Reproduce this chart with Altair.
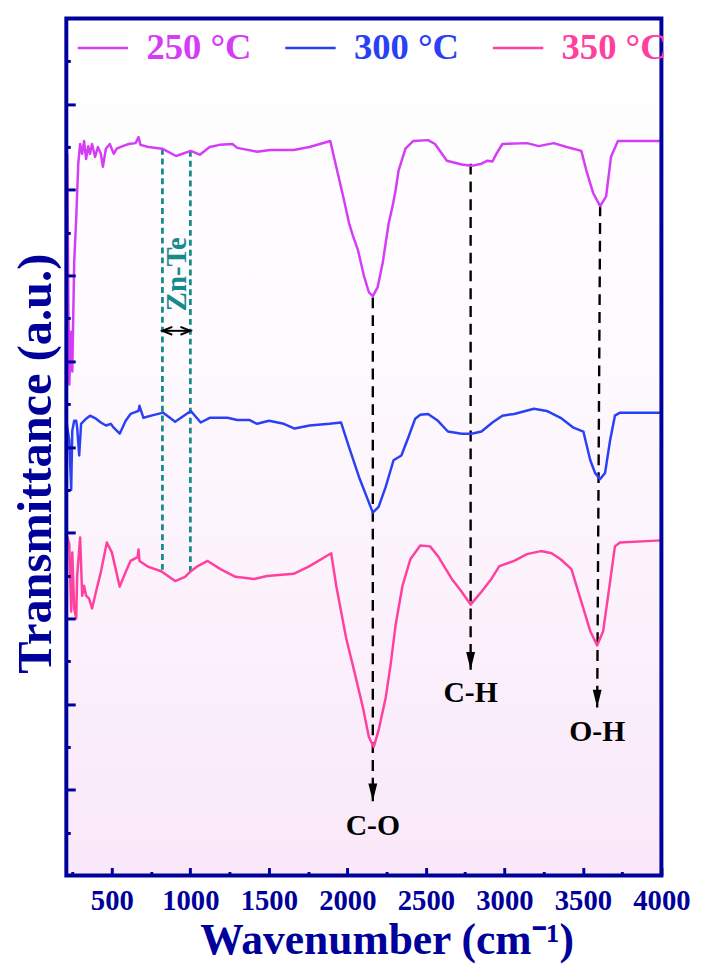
import altair as alt
import pandas as pd

FONT = "Liberation Serif"
AX = "#00009a"
TEAL = "#178a8a"

series_names = ["250 °C", "300 °C", "350 °C"]
series_colors = ["#d53cf5", "#2a40f5", "#ff409f"]

wn_250 = [216, 223, 229, 241, 248, 260, 273, 286, 298, 311, 323, 336, 349, 361, 374, 393, 411, 430, 443, 462,
          487, 512, 531, 569, 607, 651, 670, 682, 733, 821, 909, 1003, 1060, 1123, 1186, 1268, 1299, 1425, 1507, 1658,
          1759, 1891, 1929, 1973, 2011, 2036, 2067, 2105, 2137, 2162, 2193, 2225, 2244, 2263, 2288, 2307, 2326, 2370, 2420, 2514,
          2558, 2634, 2728, 2791, 2854, 2892, 2924, 2949, 2987, 3144, 3219, 3314, 3396, 3490, 3522, 3566, 3610, 3648, 3679, 3723,
          3774, 4000]
t_250 = [16.84, 13.38, 11.46, 12.69, 11.76, 14.30, 15.34, 16.61, 17.07, 16.84, 17.14, 16.72, 17.02, 16.84, 17.07, 16.77, 17.00, 16.84, 16.54, 16.96,
         17.07, 16.84, 16.96, 17.02, 17.07, 17.09, 17.23, 17.05, 17.00, 16.96, 16.79, 16.91, 16.82, 17.00, 17.05, 17.07, 16.98, 16.89, 16.93, 16.93,
         17.00, 17.14, 16.54, 15.85, 15.22, 14.92, 14.60, 14.00, 13.61, 13.52, 13.73, 14.30, 14.76, 15.22, 15.62, 15.99, 16.45, 16.96, 17.14, 17.16,
         17.07, 16.68, 16.59, 16.56, 16.61, 16.68, 16.66, 16.84, 17.07, 17.09, 17.02, 17.09, 17.00, 16.91, 16.45, 15.92, 15.62, 15.85, 16.77, 17.14,
         17.14, 17.14]

wn_300 = [210, 229, 241, 248, 260, 273, 279, 292, 304, 336, 361, 399, 430, 462, 493, 512, 550, 588, 619, 670,
          676, 701, 751, 827, 903, 1003, 1066, 1123, 1236, 1299, 1375, 1425, 1501, 1595, 1664, 1759, 1885, 1960, 2011, 2074,
          2130, 2162, 2199, 2244, 2294, 2344, 2388, 2432, 2464, 2514, 2577, 2640, 2728, 2791, 2854, 2924, 2987, 3062, 3188, 3270,
          3358, 3440, 3503, 3547, 3578, 3610, 3641, 3673, 3704, 3736, 4000]
t_300 = [10.61, 10.15, 9.00, 10.38, 10.61, 10.61, 10.45, 9.80, 10.54, 10.66, 10.73, 10.66, 10.57, 10.50, 10.54, 10.45, 10.31, 10.61, 10.77, 10.84,
         10.96, 10.68, 10.73, 10.80, 10.59, 10.84, 10.57, 10.68, 10.68, 10.63, 10.63, 10.54, 10.61, 10.54, 10.43, 10.50, 10.54, 10.57, 9.99, 9.30,
         8.77, 8.47, 8.60, 9.07, 9.69, 9.80, 10.22, 10.66, 10.75, 10.77, 10.61, 10.36, 10.31, 10.31, 10.36, 10.57, 10.73, 10.77, 10.89, 10.84,
         10.68, 10.45, 10.36, 9.69, 9.39, 9.25, 9.39, 10.15, 10.73, 10.80, 10.80]

wn_350 = [216, 229, 241, 248, 260, 273, 279, 298, 311, 323, 336, 355, 374, 399, 430, 468, 500, 550, 588, 619,
          664, 670, 676, 733, 814, 903, 966, 1003, 1047, 1110, 1192, 1287, 1406, 1488, 1658, 1759, 1897, 1929, 1992, 2043,
          2099, 2137, 2168, 2199, 2244, 2275, 2307, 2351, 2401, 2464, 2527, 2577, 2665, 2728, 2785, 2854, 2917, 2968, 3062, 3144,
          3232, 3301, 3358, 3427, 3484, 3547, 3591, 3629, 3673, 3704, 3736, 4000]
t_350 = [7.91, 7.73, 6.16, 7.54, 6.23, 6.00, 6.99, 7.89, 6.53, 6.76, 6.53, 6.46, 6.23, 6.62, 7.08, 7.77, 7.54, 6.74, 7.08, 7.34,
         7.43, 7.61, 7.34, 7.20, 7.10, 6.87, 6.97, 7.10, 7.22, 7.34, 7.15, 6.97, 6.92, 6.99, 7.04, 7.22, 7.52, 6.76, 5.54, 4.78,
         3.92, 3.23, 3.00, 3.39, 4.15, 4.91, 5.84, 6.76, 7.38, 7.70, 7.68, 7.45, 6.92, 6.62, 6.32, 6.62, 6.92, 7.22, 7.34, 7.50,
         7.57, 7.52, 7.38, 7.15, 6.46, 5.70, 5.37, 5.70, 6.85, 7.68, 7.77, 7.82]

# peak assignments
peak_labels = ["C-O", "C-H", "O-H"]
peak_x_top = [2162, 2785, 3610]
peak_x_tip = [2162, 2785, 3591]
peak_y_top = [13.49, 16.61, 15.64]
peak_y_tip = [1.73, 4.80, 3.92]
peak_label_y = [1.15, 4.26, 3.34]

# Zn-Te band
band_x = [822, 1000]
band_y_top = [16.96, 16.91]
band_y_bottom = [7.10, 7.10]
band_arrow_y = 12.71
band_label = "Zn-Te"
band_label_x = 915
band_label_y = 14.03

x_major = [500, 1000, 1500, 2000, 2500, 3000, 3500, 4000]
x_minor = [250, 750, 1250, 1750, 2250, 2750, 3250, 3750]
y_major = [2, 4, 6, 8, 10, 12, 14, 16, 18]
y_minor = [1, 3, 5, 7, 9, 11, 13, 15, 17, 19]

W, H = 602, 867

rows = []
for name, xs, ys in zip(series_names, [wn_250, wn_300, wn_350], [t_250, t_300, t_350]):
    for i, (a, b) in enumerate(zip(xs, ys)):
        rows.append({"series": name, "wn": a, "t": b, "idx": i})
df = pd.DataFrame(rows)

peaks = pd.DataFrame({"label": peak_labels, "x": peak_x_top, "x2": peak_x_tip,
                      "y": peak_y_top, "y2": peak_y_tip, "ly": peak_label_y})
band = pd.DataFrame({"x": band_x, "y": band_y_top, "y2": band_y_bottom})
band_arrow = pd.DataFrame({"x": [band_x[0]], "x2": [band_x[1]], "y": [band_arrow_y]})
band_text = pd.DataFrame({"x": [band_label_x], "y": [band_label_y], "label": [band_label]})

xs = alt.Scale(domain=[210, 4000], nice=False, zero=False)
ys = alt.Scale(domain=[0, 20], nice=False, zero=False)

xA = alt.Axis(values=x_major, format="d", labelOverlap=False, labelFlush=False, ticks=False, domain=False,
              grid=False, orient="bottom", zindex=2,
              labelFont=FONT, labelFontWeight="bold", labelFontSize=29, labelColor=AX, labelPadding=11,
              title="Wavenumber (cm⁻¹)", titleFont=FONT, titleFontWeight="bold", titleFontSize=44,
              titleColor=AX, titleX=324, titleY=66, titleAlign="center", titleBaseline="middle")
yA = alt.Axis(ticks=False, labels=False, domain=False, grid=False, orient="left", zindex=2,
              title="Transmittance (a.u.)", titleFont=FONT, titleFontWeight="bold", titleFontSize=49,
              titleColor=AX, titleX=-31, titleY=450, titleAngle=270, titleAlign="center", titleBaseline="middle")
xB = alt.Axis(values=x_major, offset=-8, tickSize=8, tickWidth=3, tickColor=AX, labels=False,
              domain=False, grid=False, title=None, orient="bottom", zindex=2)
yB = alt.Axis(values=y_major, offset=-9, tickSize=9, tickWidth=3, tickColor=AX, labels=False,
              domain=False, grid=False, title=None, orient="left", zindex=2)
xC = alt.Axis(values=x_minor, offset=-4, tickSize=4, tickWidth=3, tickColor=AX, labels=False,
              domain=False, grid=False, title=None, orient="bottom", zindex=2)
yC = alt.Axis(values=y_minor, offset=-4, tickSize=4, tickWidth=3, tickColor=AX, labels=False,
              domain=False, grid=False, title=None, orient="left", zindex=2)

bg = alt.Chart(pd.DataFrame({"a": [0]})).mark_rect(
    fill=alt.Gradient(gradient="linear",
                      stops=[alt.GradientStop(color="#ffffff", offset=0),
                             alt.GradientStop(color="#fefbfe", offset=0.35),
                             alt.GradientStop(color="#f9e8f9", offset=1)],
                      x1=0, x2=0, y1=0, y2=1)
).encode(x=alt.value(0), x2=alt.value(W), y=alt.value(0), y2=alt.value(H))

teal = alt.Chart(band).mark_rule(color=TEAL, strokeWidth=2.8, strokeDash=[6, 4]).encode(
    x=alt.X("x:Q", scale=xs, axis=xC), y=alt.Y("y:Q", scale=ys, axis=yC), y2="y2:Q")

black = alt.Chart(peaks).mark_rule(color="black", strokeWidth=2.4, strokeDash=[11, 7]).encode(
    x=alt.X("x:Q", scale=xs, axis=xB), x2="x2:Q", y=alt.Y("y:Q", scale=ys, axis=yB), y2="y2:Q")

lines = alt.Chart(df).mark_line(strokeWidth=2.5, strokeJoin="round").encode(
    x=alt.X("wn:Q", scale=xs, axis=xA),
    y=alt.Y("t:Q", scale=ys, axis=yA),
    color=alt.Color("series:N", scale=alt.Scale(domain=series_names, range=series_colors),
                    legend=alt.Legend(title=None, orient="none", legendX=10, legendY=3,
                                      direction="horizontal", columns=3, symbolType="stroke",
                                      symbolSize=2601, symbolStrokeWidth=2.5, labelOffset=17,
                                      columnPadding=28, padding=0,
                                      labelFont=FONT, labelFontWeight="bold", labelFontSize=37,
                                      labelColor={"expr": "datum.label == '250 °C' ? '#d53cf5' : datum.label == '300 °C' ? '#2a40f5' : '#ff409f'"})),
    order="idx:Q")

heads = alt.Chart(peaks).mark_point(shape="M-0.5,-1L0.5,-1L0,1Z", filled=True, color="black",
                                    size=324, opacity=1, yOffset=-9).encode(
    x=alt.X("x2:Q", scale=xs, axis=None), y=alt.Y("y2:Q", scale=ys, axis=None))

peak_text = alt.Chart(peaks).mark_text(font=FONT, fontWeight="bold", fontSize=30, color="black",
                                       baseline="middle", align="center").encode(
    x=alt.X("x2:Q", scale=xs, axis=None), y=alt.Y("ly:Q", scale=ys, axis=None), text="label:N")

arrow_line = alt.Chart(band_arrow).mark_rule(color="black", strokeWidth=2).encode(
    x=alt.X("x:Q", scale=xs, axis=None), x2="x2:Q", y=alt.Y("y:Q", scale=ys, axis=None))
arrow_left = alt.Chart(band_arrow).mark_point(shape="M1,-0.8L-1,0L1,0.8", filled=False, color="black",
                                              strokeWidth=2, size=100, opacity=1, xOffset=5).encode(
    x=alt.X("x:Q", scale=xs, axis=None), y=alt.Y("y:Q", scale=ys, axis=None))
arrow_right = alt.Chart(band_arrow).mark_point(shape="M-1,-0.8L1,0L-1,0.8", filled=False, color="black",
                                               strokeWidth=2, size=100, opacity=1, xOffset=-5).encode(
    x=alt.X("x2:Q", scale=xs, axis=None), y=alt.Y("y:Q", scale=ys, axis=None))

band_txt = alt.Chart(band_text).mark_text(font=FONT, fontWeight="bold", fontSize=29, color=TEAL,
                                          angle=270, baseline="middle", align="center").encode(
    x=alt.X("x:Q", scale=xs, axis=None), y=alt.Y("y:Q", scale=ys, axis=None), text="label:N")

frame = alt.Chart(pd.DataFrame({"a": [0]})).mark_rect(filled=False, stroke=AX, strokeWidth=4).encode(
    x=alt.value(0), x2=alt.value(W), y=alt.value(0), y2=alt.value(H))

chart = alt.layer(bg, teal, black, lines, heads, peak_text, arrow_line, arrow_left, arrow_right,
                  band_txt, frame).resolve_axis(x="independent", y="independent").properties(
    width=W, height=H,
    autosize=alt.AutoSizeParams(type="none"),
    padding={"left": 59, "top": 5, "right": 35, "bottom": 84},
).configure_view(stroke=None)

chart.save("out.html", embed_options={"renderer": "svg", "actions": False})
